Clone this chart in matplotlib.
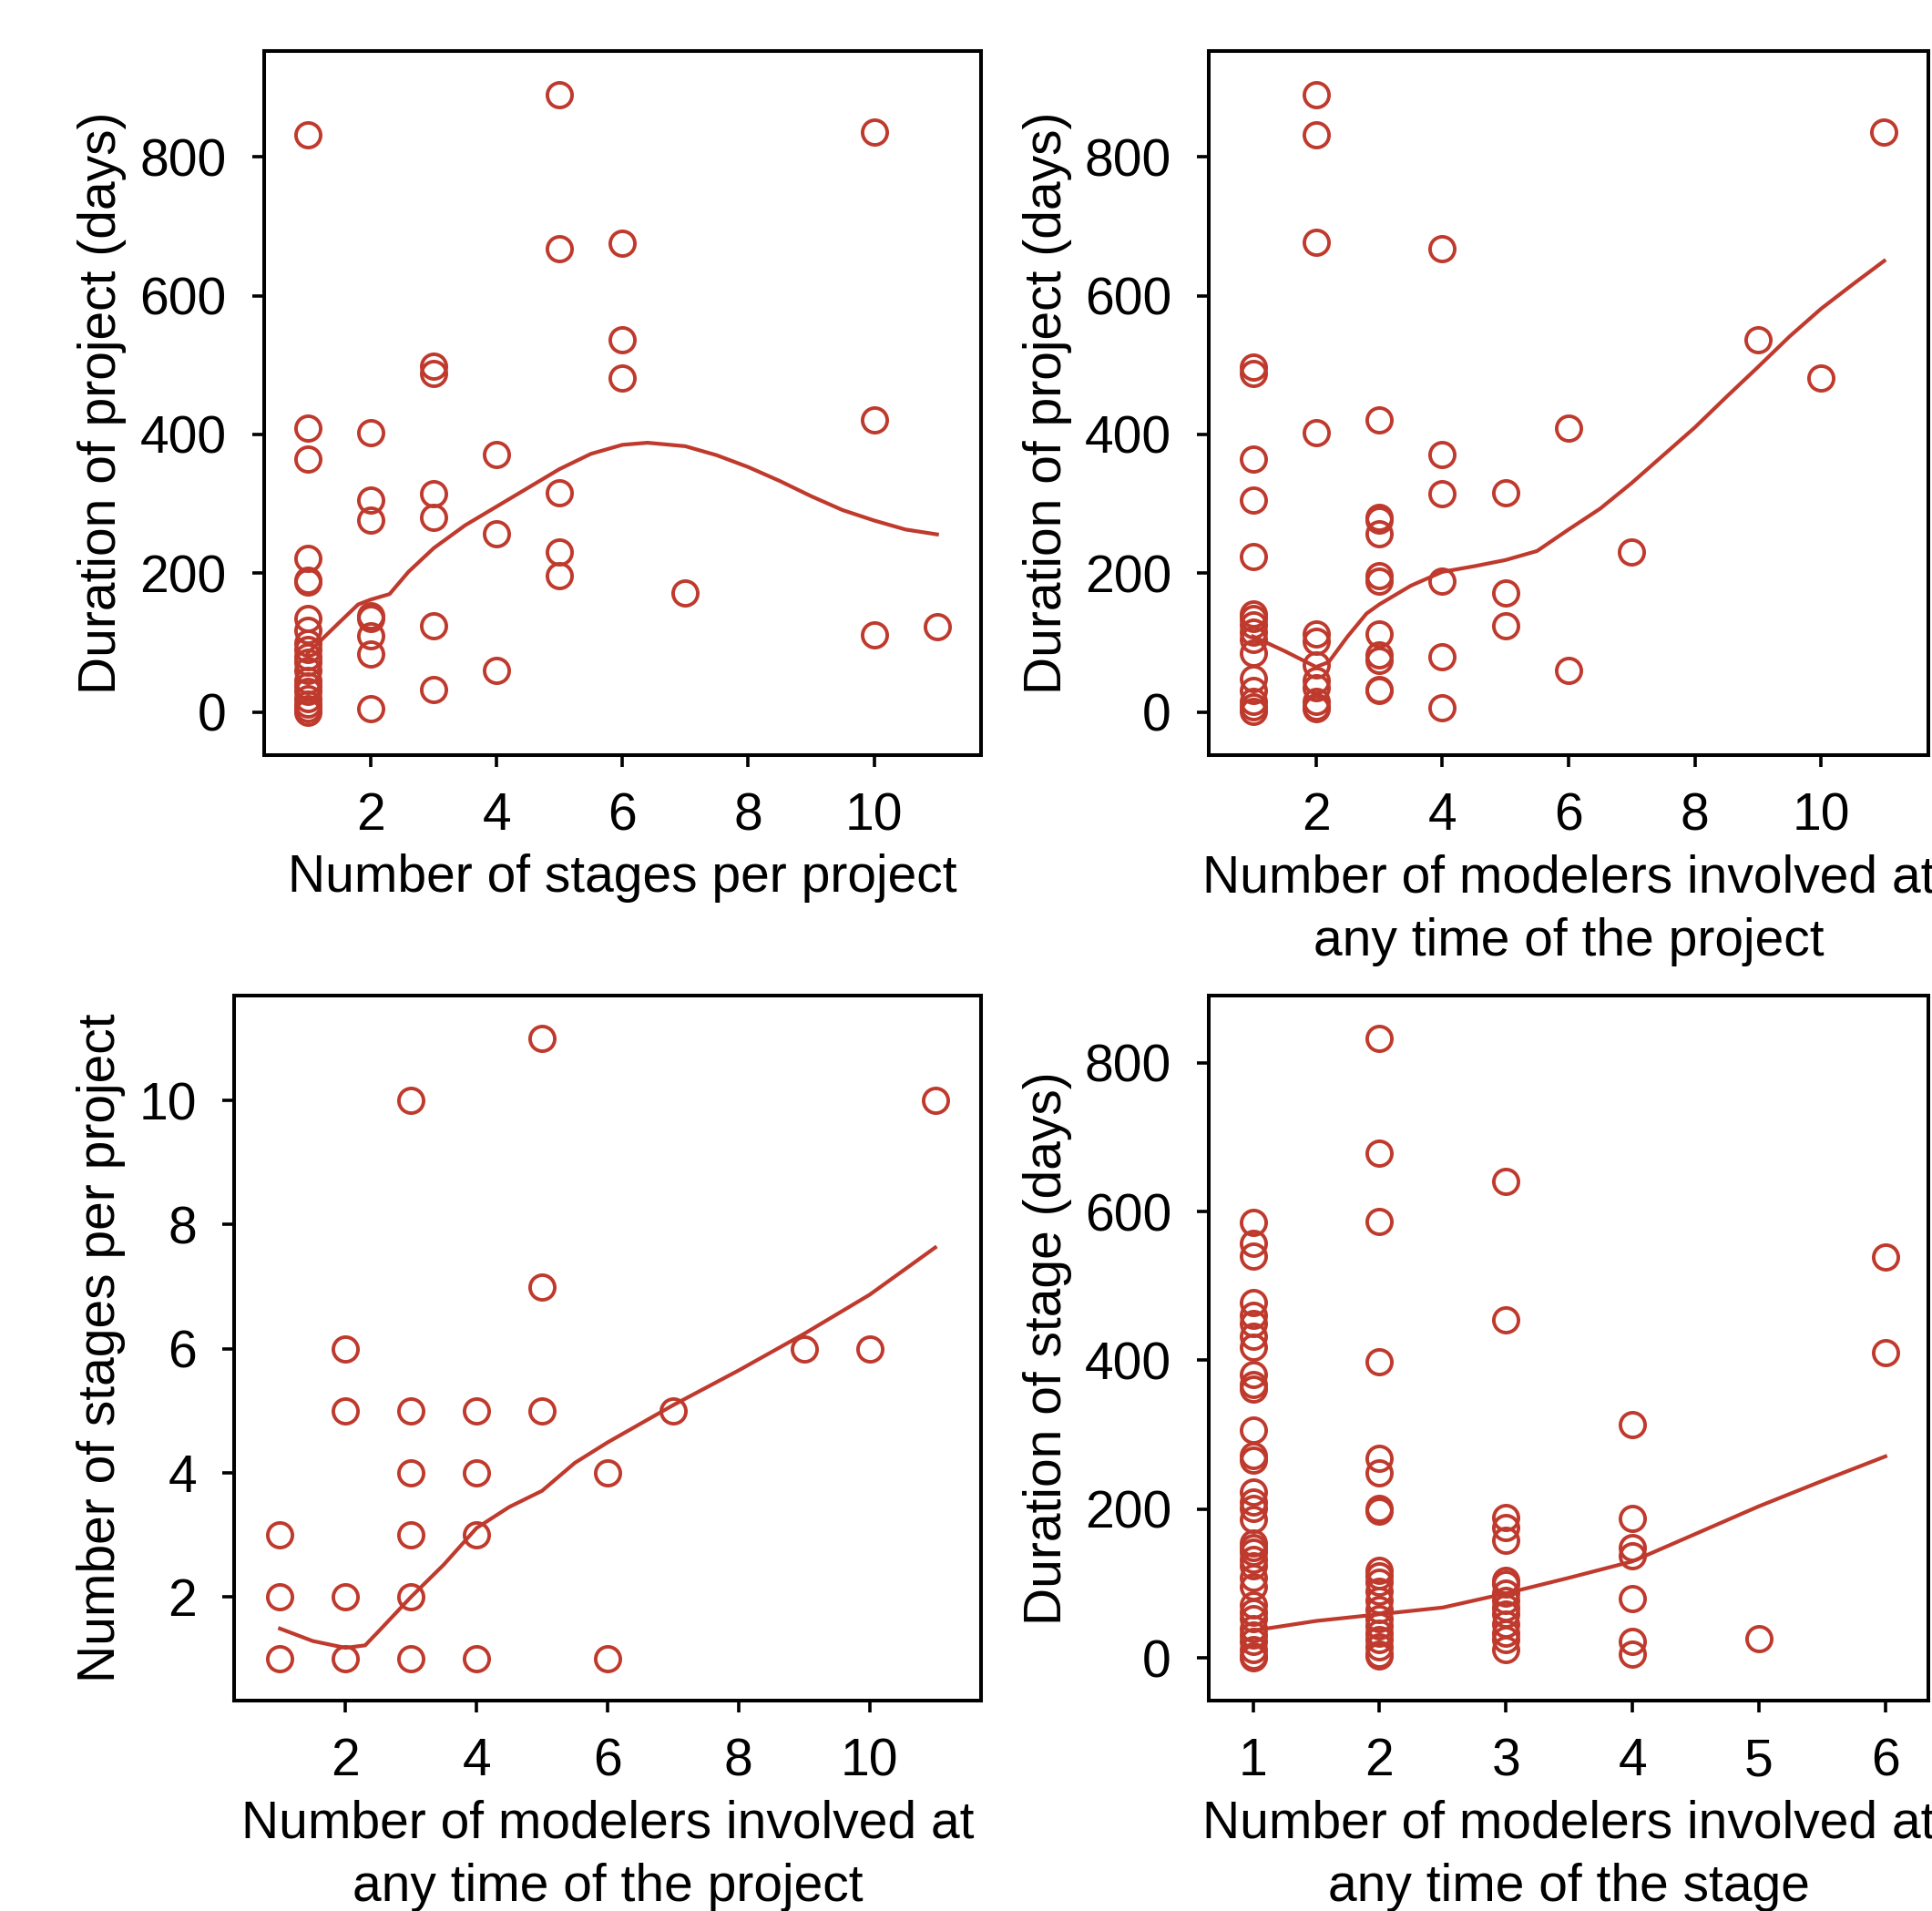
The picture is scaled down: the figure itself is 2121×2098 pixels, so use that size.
import matplotlib
matplotlib.use("Agg")
import matplotlib.pyplot as plt

plt.rcParams['font.family'] = ['Liberation Sans', 'DejaVu Sans']

RED = '#BF3A2D'

# ---------- Panel 1: stages vs project duration ----------
p1_stages = [1]*20 + [2]*8 + [3]*6 + [4]*3 + [5]*5 + [6]*3 + [7] + [10]*3 + [11]
p1_days = [831, 409, 365, 222, 190, 187, 135, 118, 100, 90, 80, 72, 60, 45, 38, 30, 20, 12, 5, 0,
           403, 306, 276, 139, 135, 110, 84, 5,
           498, 488, 314, 281, 124, 33,
           371, 257, 60,
           890, 667, 316, 231, 196,
           676, 537, 481,
           172,
           836, 421, 111,
           123]
p1_fit_x = [1.0, 1.5, 1.8, 2.0, 2.3, 2.6, 3.0, 3.5, 4.0, 4.5, 5.0, 5.5, 6.0, 6.4, 7.0, 7.5, 8.0, 8.5, 9.0, 9.5, 10.0, 10.5, 11.0]
p1_fit_y = [85, 129, 155, 162, 170, 202, 236, 269, 296, 323, 350, 372, 385, 388, 383, 370, 353, 333, 311, 291, 276, 263, 256]

# ---------- Panel 2: modelers (project) vs project duration ----------
p2_modelers = [1]*16 + [2]*12 + [3]*11 + [4]*6 + [5]*3 + [6]*2 + [7] + [9] + [10] + [11]
p2_days = [497, 488, 365, 306, 224, 142, 135, 125, 115, 105, 85, 48, 31, 15, 8, 1,
           890, 831, 677, 403, 112, 102, 68, 45, 35, 15, 8, 5,
           421, 281, 276, 257, 196, 189, 112, 82, 75, 33, 31,
           667, 371, 314, 188, 80, 6,
           316, 172, 124,
           409, 60,
           231,
           537,
           481,
           836]
p2_fit_x = [1.0, 1.5, 2.0, 2.2, 2.5, 2.8, 3.0, 3.5, 4.0, 4.5, 5.0, 5.5, 6.0, 6.5, 7.0, 7.5, 8.0, 8.5, 9.0, 9.5, 10.0, 10.5, 11.0]
p2_fit_y = [109, 88, 65, 72, 109, 142, 155, 182, 202, 210, 219, 232, 263, 293, 330, 370, 410, 454, 497, 541, 581, 616, 650]

# ---------- Panel 3: modelers (project) vs stages ----------
p3_modelers = [1, 1, 1, 2, 2, 2, 2, 3, 3, 3, 3, 3, 3, 4, 4, 4, 4, 5, 5, 5, 6, 6, 7, 9, 10, 11]
p3_stages = [1, 2, 3, 1, 2, 5, 6, 1, 2, 3, 4, 5, 10, 1, 3, 4, 5, 5, 7, 11, 1, 4, 5, 6, 6, 10]
p3_fit_x = [1.0, 1.5, 2.0, 2.3, 2.5, 3.0, 3.5, 4.0, 4.5, 5.0, 5.5, 6.0, 7.0, 8.0, 9.0, 10.0, 11.0]
p3_fit_y = [1.49, 1.29, 1.18, 1.22, 1.44, 2.0, 2.52, 3.11, 3.45, 3.71, 4.16, 4.49, 5.09, 5.65, 6.24, 6.87, 7.63]

# ---------- Panel 4: modelers (stage) vs stage duration ----------
p4_x1 = [585, 557, 540, 478, 461, 450, 433, 418, 381, 368, 361, 306, 272, 266, 223, 210, 201, 186,
         155, 149, 142, 133, 124, 108, 96, 71, 62, 53, 40, 31, 22, 12, 3, 0]
p4_x2 = [833, 678, 587, 398, 269, 249, 201, 197, 118, 111, 102, 90, 77, 65, 53, 43, 34, 25, 15, 6, 3]
p4_x3 = [641, 455, 189, 176, 158, 105, 99, 87, 77, 68, 59, 46, 34, 25, 12]
p4_x4 = [314, 188, 149, 138, 80, 22, 5]
p4_x5 = [26]
p4_x6 = [539, 410]
p4_modelers = [1]*len(p4_x1) + [2]*len(p4_x2) + [3]*len(p4_x3) + [4]*len(p4_x4) + [5]*len(p4_x5) + [6]*len(p4_x6)
p4_days = p4_x1 + p4_x2 + p4_x3 + p4_x4 + p4_x5 + p4_x6
p4_fit_x = [1.0, 1.5, 2.0, 2.5, 3.0, 3.5, 4.0, 4.5, 5.0, 5.5, 6.0]
p4_fit_y = [37, 50, 59, 68, 87, 108, 130, 167, 204, 238, 271]

W, H = 2121, 2098
fig = plt.figure(figsize=(W/100, H/100), dpi=100)

def box(l, t, r, b):
    return [l/W, 1 - b/H, (r-l)/W, (b-t)/H]

FS = 41

def style(ax, xlabel, ylabel, xlim, ylim, xticks, yticks):
    ax.set_xlim(*xlim)
    ax.set_ylim(*ylim)
    ax.set_xticks(xticks)
    ax.set_yticks(yticks)
    ax.tick_params(direction='out', length=9.6, width=2.6, labelsize=FS, color='black')
    ax.tick_params(axis='x', pad=19.5)
    ax.tick_params(axis='y', pad=20)
    for s in ax.spines.values():
        s.set_linewidth(2.9)
        s.set_color('black')
    ax.set_xlabel(xlabel, fontsize=FS, labelpad=10, linespacing=1.38)
    ax.set_ylabel(ylabel, fontsize=FS, labelpad=10)

def draw(ax, x, y, fx, fy):
    ax.plot(x, y, linestyle='none', marker='o', markersize=19.5, markerfacecolor='none',
            markeredgecolor=RED, markeredgewidth=2.8, clip_on=False)
    ax.plot(fx, fy, color=RED, linewidth=3.0, solid_joinstyle='round')

ax1 = fig.add_axes(box(289.5, 55.5, 1077, 829))
draw(ax1, p1_stages, p1_days, p1_fit_x, p1_fit_y)
style(ax1, 'Number of stages per project', 'Duration of project (days)',
      (0.3, 11.7), (-62, 953), [2, 4, 6, 8, 10], [0, 200, 400, 600, 800])

ax2 = fig.add_axes(box(1327, 55.5, 2117, 829))
draw(ax2, p2_modelers, p2_days, p2_fit_x, p2_fit_y)
style(ax2, 'Number of modelers involved at\nany time of the project', 'Duration of project (days)',
      (0.3, 11.7), (-62, 953), [2, 4, 6, 8, 10], [0, 200, 400, 600, 800])

ax3 = fig.add_axes(box(257, 1093, 1077, 1867))
draw(ax3, p3_modelers, p3_stages, p3_fit_x, p3_fit_y)
style(ax3, 'Number of modelers involved at\nany time of the project', 'Number of stages per project',
      (0.3, 11.7), (0.33, 11.69), [2, 4, 6, 8, 10], [2, 4, 6, 8, 10])

ax4 = fig.add_axes(box(1327, 1093, 2117, 1867))
draw(ax4, p4_modelers, p4_days, p4_fit_x, p4_fit_y)
style(ax4, 'Number of modelers involved at\nany time of the stage', 'Duration of stage (days)',
      (0.65, 6.34), (-57, 890), [1, 2, 3, 4, 5, 6], [0, 200, 400, 600, 800])

fig.savefig('out.png', dpi=100)
